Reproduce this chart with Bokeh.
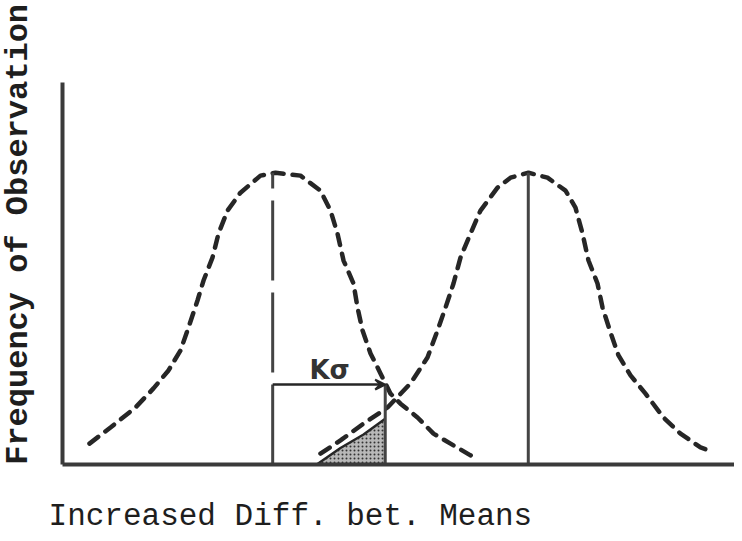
import numpy as np
from bokeh.plotting import figure
from bokeh.models import Range1d, Label, Arrow, VeeHead, FixedTicker
from bokeh.embed import file_html
from bokeh.resources import INLINE

# ---- data (x: position along difference axis, y: frequency 0-100) ----
left_x = [3.98, 7.08, 10.77, 13.42, 15.63, 17.40, 18.58, 19.91, 20.80, 22.12, 23.01, 24.34, 26.25,
          29.20, 31.42, 35.10, 38.05, 39.53, 40.56, 41.45, 42.92, 43.51, 44.25, 45.43, 46.90, 48.38,
          49.85, 52.36, 54.72, 57.23, 60.18, 61.36]
left_y = [7.1, 12.6, 19.4, 25.9, 32.0, 38.8, 46.6, 55.8, 62.6, 70.4, 78.6, 86.4, 92.5,
          98.3, 99.3, 98.3, 93.2, 86.4, 78.6, 69.4, 61.6, 53.4, 45.6, 37.8, 31.0, 24.1,
          20.7, 16.0, 10.5, 7.1, 3.1, 2.0]

right_x = [38.05, 41.00, 44.40, 47.94, 51.33, 53.83, 55.31, 56.49, 57.67, 58.70, 60.18, 61.65, 64.16,
           66.08, 68.73, 71.53, 74.19, 75.66, 76.70, 77.58, 78.91, 79.65, 80.83, 82.01, 83.78, 85.99,
           88.64, 91.15, 94.10, 95.28]
right_y = [3.7, 8.2, 13.9, 19.4, 27.6, 36.4, 45.6, 53.4, 61.6, 70.4, 78.6, 86.4, 94.2,
           97.6, 99.3, 97.6, 93.2, 87.4, 78.6, 69.4, 61.6, 53.4, 44.9, 37.1, 30.3, 24.1,
           16.0, 10.5, 5.8, 4.8]

left_mean = 31.0
right_mean = 68.7
peak = 99.3

k_sigma_start = 31.0
k_sigma_end = 47.6
k_sigma_level = 27.2

shade_x = [37.5, 41.0, 44.4, 47.6]
shade_top = [0.0, 5.6, 10.2, 15.6]

x_axis_max = 100
y_axis_max = 130

x_label = "Increased Diff. bet. Means"
y_label = "Frequency of Observation"
k_label = "Kσ"

# ---- figure ----
W, H = 734, 533
p = figure(width=W, height=H, output_backend="svg", toolbar_location=None,
           x_range=Range1d(-9.145, 99.115), y_range=Range1d(-23.49, 157.9),
           min_border=0)
p.outline_line_color = None
p.grid.visible = False
p.background_fill_color = "white"
p.border_fill_color = "white"

p.xaxis.fixed_location = 0
p.yaxis.fixed_location = 0
p.xaxis.bounds = (0, x_axis_max)
p.yaxis.bounds = (0, y_axis_max)
for ax in (p.xaxis, p.yaxis):
    ax.ticker = FixedTicker(ticks=[])
    ax.axis_line_width = 4
    ax.axis_line_color = "#3a3a3a"
    ax.major_tick_line_color = None
    ax.minor_tick_line_color = None
    ax.major_tick_out = 0
    ax.major_tick_in = 0
    ax.major_label_standoff = 0

ink = "#262626"

# shaded tail area
p.varea(x=shade_x, y1=[0] * len(shade_x), y2=shade_top, fill_color="#b8b8b8",
        hatch_pattern=".", hatch_color="#333333", hatch_scale=4, hatch_weight=1)
p.line(shade_x, shade_top, line_color=ink, line_width=2.5)

# normal curves (dashed)
p.line(left_x, left_y, line_color=ink, line_width=4.5, line_dash="11 9", line_cap="round")
p.line(right_x, right_y, line_color=ink, line_width=4.5, line_dash="11 9", line_cap="round")

# mean lines
p.line([left_mean, left_mean], [0, peak], line_color="#444444", line_width=3, line_dash="80 12")
p.line([right_mean, right_mean], [0, peak], line_color="#444444", line_width=3)

# K sigma marker
p.line([k_sigma_end, k_sigma_end], [0, k_sigma_level], line_color="#444444", line_width=3)
p.add_layout(Arrow(x_start=k_sigma_start, y_start=k_sigma_level, x_end=k_sigma_end, y_end=k_sigma_level,
                   line_color=ink, line_width=2.5,
                   end=VeeHead(size=10, line_color=ink, fill_color=ink, line_width=2)))
p.add_layout(Label(x=39.4, y=32.0, text=k_label, text_font="DejaVu Sans", text_font_style="bold",
                   text_font_size="26px", text_color="#333333", text_align="center",
                   text_baseline="middle"))

# axis titles
p.add_layout(Label(x=-6.49, y=78.3, text=y_label, angle=np.pi / 2, text_font="Liberation Mono",
                   text_font_style="bold", text_font_size="32px", text_color="#1e1e1e",
                   text_align="center", text_baseline="middle"))
p.add_layout(Label(x=-2.06, y=-17.6, text=x_label, text_font="Liberation Mono",
                   text_font_size="31px", text_color="#1e1e1e",
                   text_align="left", text_baseline="middle"))

open("out.html", "w").write(file_html(p, INLINE))
